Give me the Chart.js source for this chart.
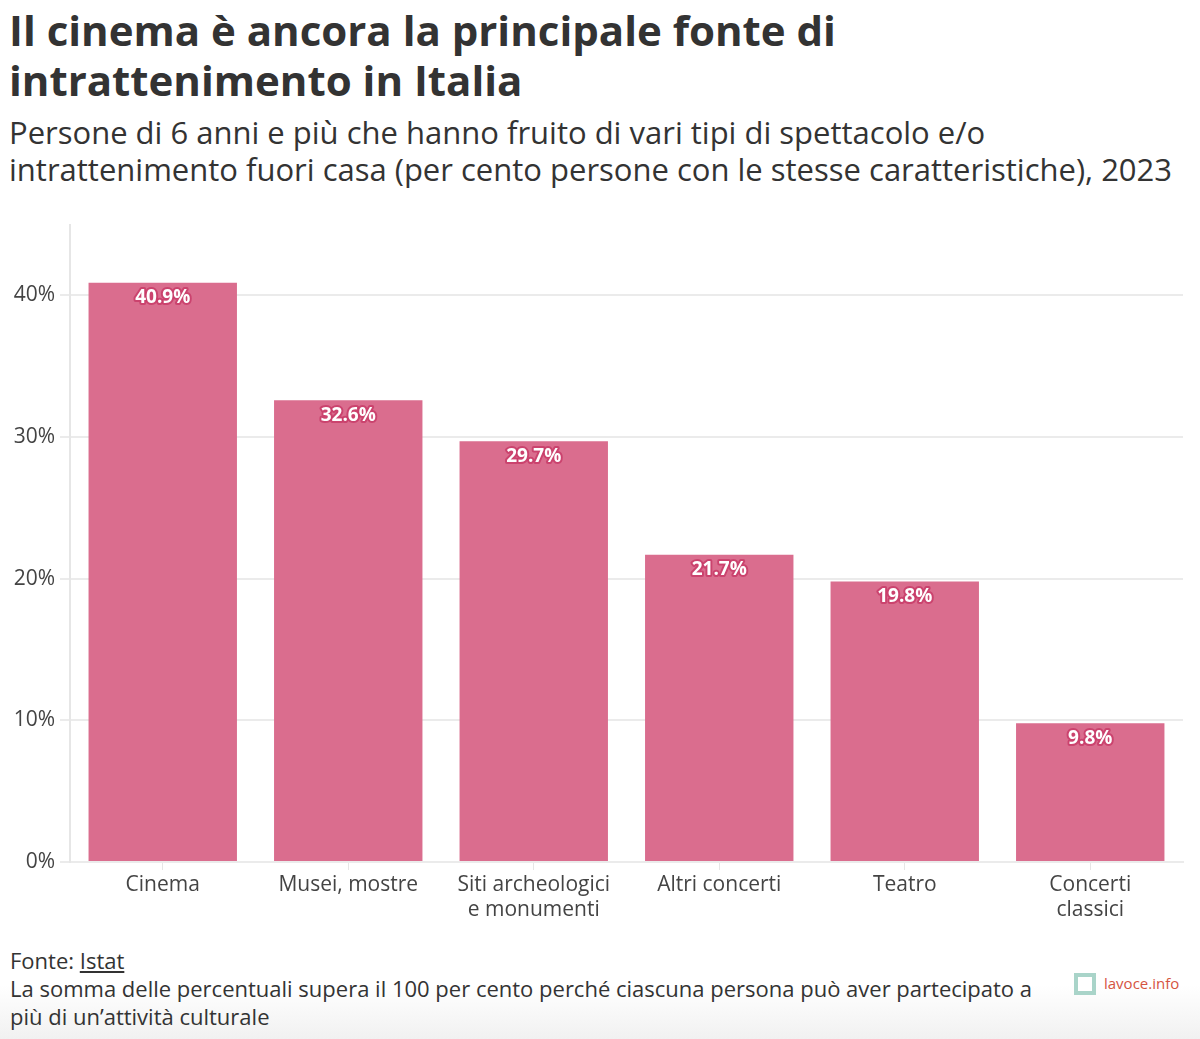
<!DOCTYPE html>
<html><head><meta charset="utf-8">
<script src="https://cdn.jsdelivr.net/npm/chart.js@4"></script>
<style>
html,body{margin:0;padding:0;background:#fff;width:1200px;height:1039px;overflow:hidden;position:relative;font-family:"Open Sans",sans-serif;color:#333}
#title{position:absolute;left:9px;top:5px;font-family:"Open Sans";font-weight:700;font-size:42px;line-height:50px;color:#333}
#sub{position:absolute;left:9px;top:114px;font-family:"Open Sans";font-weight:400;font-size:31px;line-height:37px;color:#333}
#wrap{position:absolute;left:0;top:207px;width:1200px;height:728px}
#foot{position:absolute;left:10px;top:946px;font-size:22px;line-height:28px;color:#333;font-family:"Open Sans"}
#grad{position:absolute;left:0;top:985px;width:1200px;height:54px;background:linear-gradient(#fff,#f1f1f1)}
#logo{position:absolute;left:1074px;top:973px;font-size:15px;color:#d5543f;font-family:"Open Sans"}
#logo span.box{display:inline-block;width:14px;height:14px;border:4px solid #a9d4c9;vertical-align:-6px;margin-right:8px;background:#fff}
u{text-decoration:underline}
</style></head><body>
<div id="grad"></div>
<div id="title">Il cinema è ancora la principale fonte di<br>intrattenimento in Italia</div>
<div id="sub">Persone di 6 anni e più che hanno fruito di vari tipi di spettacolo e/o<br>intrattenimento fuori casa (per cento persone con le stesse caratteristiche), 2023</div>
<div id="wrap"><canvas id="c"></canvas></div>
<div id="foot">Fonte: <u>Istat</u><br>La somma delle percentuali supera il 100 per cento perché ciascuna persona può aver partecipato a<br>più di un’attività culturale</div>
<div id="logo"><span class="box"></span>lavoce.info</div>
<script>
const categories = [["Cinema"], ["Musei, mostre"], ["Siti archeologici","e monumenti"], ["Altri concerti"], ["Teatro"], ["Concerti","classici"]];
const values = [40.9, 32.6, 29.7, 21.7, 19.8, 9.8];
const yTicks = [0, 10, 20, 30, 40];

const labelPlugin = {
  id: 'barLabels',
  afterDatasetsDraw(chart) {
    const ctx = chart.ctx;
    const meta = chart.getDatasetMeta(0);
    ctx.save();
    ctx.font = 'bold 19px "Open Sans"';
    ctx.textAlign = 'center';
    ctx.textBaseline = 'middle';
    ctx.lineJoin = 'round';
    meta.data.forEach((bar, i) => {
      const txt = values[i].toFixed(1) + '%';
      const y = bar.y + 15;
      ctx.strokeStyle = 'rgba(200,60,105,0.85)';
      ctx.lineWidth = 4;
      ctx.strokeText(txt, bar.x, y);
      ctx.fillStyle = '#fff';
      ctx.fillText(txt, bar.x, y);
    });
    ctx.restore();
  }
};

new Chart(document.getElementById('c'), {
  type: 'bar',
  data: { labels: categories, datasets: [{ data: values, backgroundColor: '#da6d8e', barPercentage: 0.8, categoryPercentage: 1 }] },
  options: {
    responsive: true, maintainAspectRatio: false, animation: false,
    layout: { padding: { top: 7, right: 17, left: 0, bottom: 0 } },
    plugins: { legend: { display: false }, tooltip: { enabled: false } },
    scales: {
      x: {
        grid: { display: true, drawOnChartArea: false, offset: false, tickLength: 8, color: '#e6e6e6' },
        border: { display: true, color: '#ebebeb', width: 2 },
        ticks: { color: '#444', font: { family: '"Open Sans"', size: 21 }, padding: 2, maxRotation: 0, autoSkip: false },
        afterFit(s) { s.height = 73; }
      },
      y: {
        min: 0, max: 45,
        afterBuildTicks(s) { s.ticks = yTicks.map(v => ({ value: v })); },
        grid: { color: '#ebebeb', lineWidth: 2, tickLength: 10 },
        border: { display: true, color: '#e6e6e6', width: 2 },
        ticks: { color: '#444', font: { family: '"Open Sans"', size: 21 }, padding: 5, callback: v => v + '%' },
        afterFit(s) { s.width = 70; }
      }
    }
  },
  plugins: [labelPlugin]
});
</script>
</body></html>
